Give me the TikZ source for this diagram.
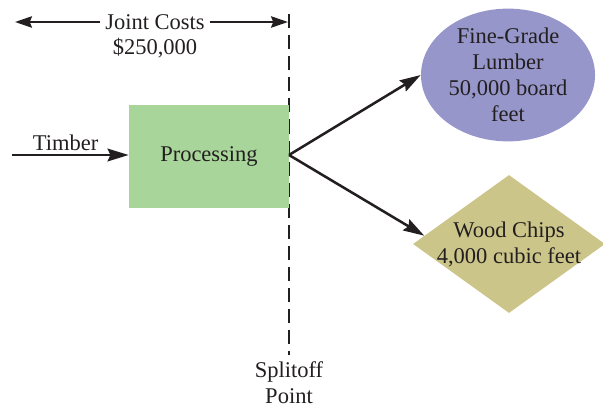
\documentclass[tikz,border=0pt]{standalone}
\usepackage{fontspec}
\setmainfont{Liberation Serif}
\usetikzlibrary{arrows.meta,positioning,shapes.geometric,calc}
\definecolor{leafgreen}{RGB}{168,213,154}
\definecolor{lavender}{RGB}{150,150,202}
\definecolor{straw}{RGB}{204,197,137}
\definecolor{ink}{RGB}{35,31,32}
\tikzset{
  >={Stealth[length=15pt,width=9pt,inset=2pt]},
  txt/.style={font=\fontsize{16}{18.5}\selectfont,text=ink,align=center},
  procbox/.style={fill=leafgreen,minimum width=4cm,minimum height=2.575cm,txt},
  product/.style={ellipse,fill=lavender,minimum width=4.35cm,minimum height=3.05cm,inner sep=0pt,txt},
  chipshape/.style={diamond,fill=straw,minimum width=4.8cm,minimum height=3.45cm,inner sep=0pt},
  flow/.style={->,draw=ink,line width=1.8pt},
  span/.style={->,draw=ink,line width=1.8pt,>={Stealth[length=12pt,width=8pt,inset=1.5pt]}},
  splitline/.style={draw=ink,line width=2pt,dash pattern=on 10pt off 5pt},
}
\begin{document}
\begin{tikzpicture}[x=0.025cm,y=-0.025cm]
  \useasboundingbox (0,0) rectangle (603,407);
  % splitoff line
  \coordinate (splittop) at (289,14);
  \coordinate (splitbot) at (289,355);
  \draw[splitline] (splittop) -- (splitbot);
  \node[txt] (splitlabel) at (289,383) {Splitoff\\Point};
  % joint costs span
  \node[txt] (joint) at (155,22) {Joint Costs};
  \node[txt] (amount) at (155,48) {\$250,000};
  \coordinate (spanl) at (15,22);
  \coordinate (spanr) at (288,22);
  \draw[span] (joint.west) -- (spanl);
  \draw[span] (joint.east) -- (spanr);
  % process
  \node[procbox] (proc) at (209,156.5) {Processing};
  \coordinate (timberin) at (12,155);
  \draw[flow] (timberin) -- node[txt,above,pos=0.46,yshift=-1pt] (timber) {Timber} (proc.west |- timberin);
  % products
  \node[product] (lumber) at (508,75) {Fine-Grade\\Lumber\\50,000 board\\feet};
  \node[chipshape] (chips) at (509,244) {};
  \node[txt] (chipstext) at (chips.center) {Wood Chips\\4,000 cubic feet};
  \coordinate (split) at (289,155);
  \draw[flow] (split) -- (lumber.west);
  \draw[flow] (split) -- ($(chips.west)!0.12!(chips.north)$);
\end{tikzpicture}
\end{document}
